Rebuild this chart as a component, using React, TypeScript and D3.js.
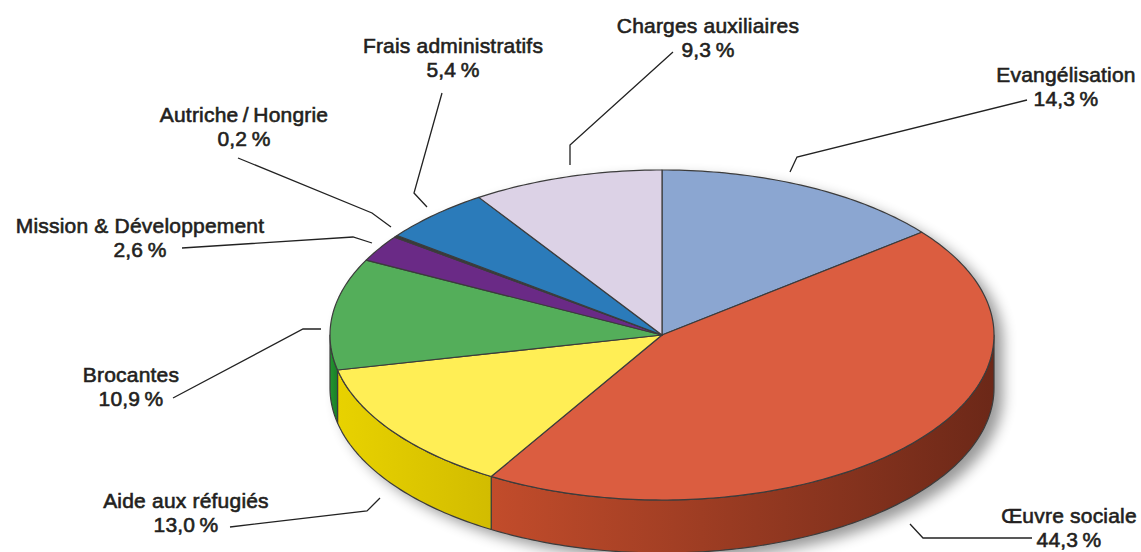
import React from "react";
import * as d3 from "d3";

const categories = [
  "Evangélisation",
  "Œuvre sociale",
  "Aide aux réfugiés",
  "Brocantes",
  "Mission & Développement",
  "Autriche\u2009/\u2009Hongrie",
  "Frais administratifs",
  "Charges auxiliaires",
];
const values = [14.3, 44.3, 13.0, 10.9, 2.6, 0.2, 5.4, 9.3];
const topColors = ["#8BA6D1", "#DB5D40", "#FFEE55", "#54AE5A", "#6A2A86", "#3A3A3A", "#2B7BBA", "#DCD2E6"];
const sideColorsLight = ["#6E86AE", "#C24C2B", "#E8D200", "#23942F", "#55206C", "#2A2A2A", "#22649A", "#B8AEC4"];
const sideColorsDark = ["#5A6F90", "#6C2818", "#D2BC00", "#1A7F28", "#451A58", "#222222", "#1B527F", "#9D94A8"];

// label layout: text centre, first baseline, leader polyline
const labelLayout = [
  { tx: 1066, ty: 82, line: [[1027, 100], [797, 157], [790, 172]] },
  { tx: 1069, ty: 523, line: [[1032, 538], [923, 538], [910, 524]] },
  { tx: 186, ty: 508, line: [[230, 527], [367, 511], [380, 498]] },
  { tx: 131, ty: 382, line: [[173, 398], [303, 329], [321, 329]] },
  { tx: 140, ty: 233, line: [[182, 248], [353, 237], [372, 243]] },
  { tx: 244, ty: 122, line: [[238, 158], [372, 213], [391, 227]] },
  { tx: 453, ty: 53, line: [[442, 93], [414, 193], [427, 207]] },
  { tx: 708, ty: 33, line: [[673, 52], [570, 145], [570, 165]] },
];

const W = 1141;
const H = 552;
const cx = 662;
const cy = 335;
const rx = 332;
const ry = 165;
const depth = 53;

const fmt = (v: number) => d3.format(".1f")(v).replace(".", ",") + "\u2009%";

function pt(a: number, dy = 0): [number, number] {
  return [cx + rx * Math.sin(a), cy - ry * Math.cos(a) + dy];
}

function arcPoints(a0: number, a1: number, dy = 0): [number, number][] {
  const n = Math.max(2, Math.ceil(((a1 - a0) / (Math.PI * 2)) * 360));
  const out: [number, number][] = [];
  for (let i = 0; i <= n; i++) out.push(pt(a0 + ((a1 - a0) * i) / n, dy));
  return out;
}

export default function App() {
  const pie = d3
    .pie<number>()
    .sort(null)
    .startAngle(0)
    .endAngle(Math.PI * 2)
    .value((d) => d);
  const arcs = pie(values);
  const line = d3.line();

  const sides = arcs
    .map((a, i) => {
      const s = Math.max(a.startAngle, Math.PI / 2);
      const e = Math.min(a.endAngle, (Math.PI * 3) / 2);
      if (s >= e) return null;
      const top = arcPoints(s, e);
      const bot = arcPoints(s, e, depth).reverse();
      return { i, d: line([...top, ...bot])! + "Z", x0: pt(s)[0], x1: pt(e)[0] };
    })
    .filter(Boolean) as { i: number; d: string; x0: number; x1: number }[];

  const tops = arcs.map((a, i) => {
    const pts = arcPoints(a.startAngle, a.endAngle);
    return { i, d: line([[cx, cy], ...pts])! + "Z" };
  });

  const shadowPath =
    line([...arcPoints(Math.PI / 2, (Math.PI * 3) / 2, depth), ...arcPoints((Math.PI * 3) / 2, Math.PI * 2.5)])! + "Z";

  const font = "'Liberation Sans', Arial, Helvetica, sans-serif";
  const textColor = "#231F20";

  return (
    <svg width={W} height={H} style={{ position: "absolute", left: 0, top: 0 }} xmlns="http://www.w3.org/2000/svg">
      <defs>
        <filter id="blur" x="-20%" y="-20%" width="140%" height="140%">
          <feGaussianBlur stdDeviation="7" />
        </filter>
        {sides.map((s) => (
          <linearGradient key={s.i} id={`sg${s.i}`} gradientUnits="userSpaceOnUse" x1={s.x1} x2={s.x0} y1={0} y2={0}>
            <stop offset="0" stopColor={sideColorsLight[s.i]} />
            <stop offset="1" stopColor={sideColorsDark[s.i]} />
          </linearGradient>
        ))}
      </defs>
      <rect width={W} height={H} fill="#fff" />
      <path d={shadowPath} transform="translate(9,7)" fill="#000" opacity={0.4} filter="url(#blur)" />
      <g stroke="#3C3C3C" strokeWidth={1.2} strokeLinejoin="round">
        {sides.map((s) => (
          <path key={s.i} d={s.d} fill={`url(#sg${s.i})`} />
        ))}
        {tops.map((t) => (
          <path key={t.i} d={t.d} fill={topColors[t.i]} />
        ))}
      </g>
      <g fill="none" stroke="#222" strokeWidth={1.3}>
        {labelLayout.map((l, i) => (
          <path key={i} d={line(l.line as [number, number][])!} />
        ))}
      </g>
      <g
        fontFamily={font}
        fontSize={21}
        fill={textColor}
        stroke={textColor}
        strokeWidth={0.6}
        letterSpacing={0.2}
        textAnchor="middle"
      >
        {labelLayout.map((l, i) => (
          <text key={i} x={l.tx} y={l.ty}>
            <tspan x={l.tx}>{categories[i]}</tspan>
            <tspan x={l.tx} dy={24}>
              {fmt(values[i])}
            </tspan>
          </text>
        ))}
      </g>
    </svg>
  );
}
